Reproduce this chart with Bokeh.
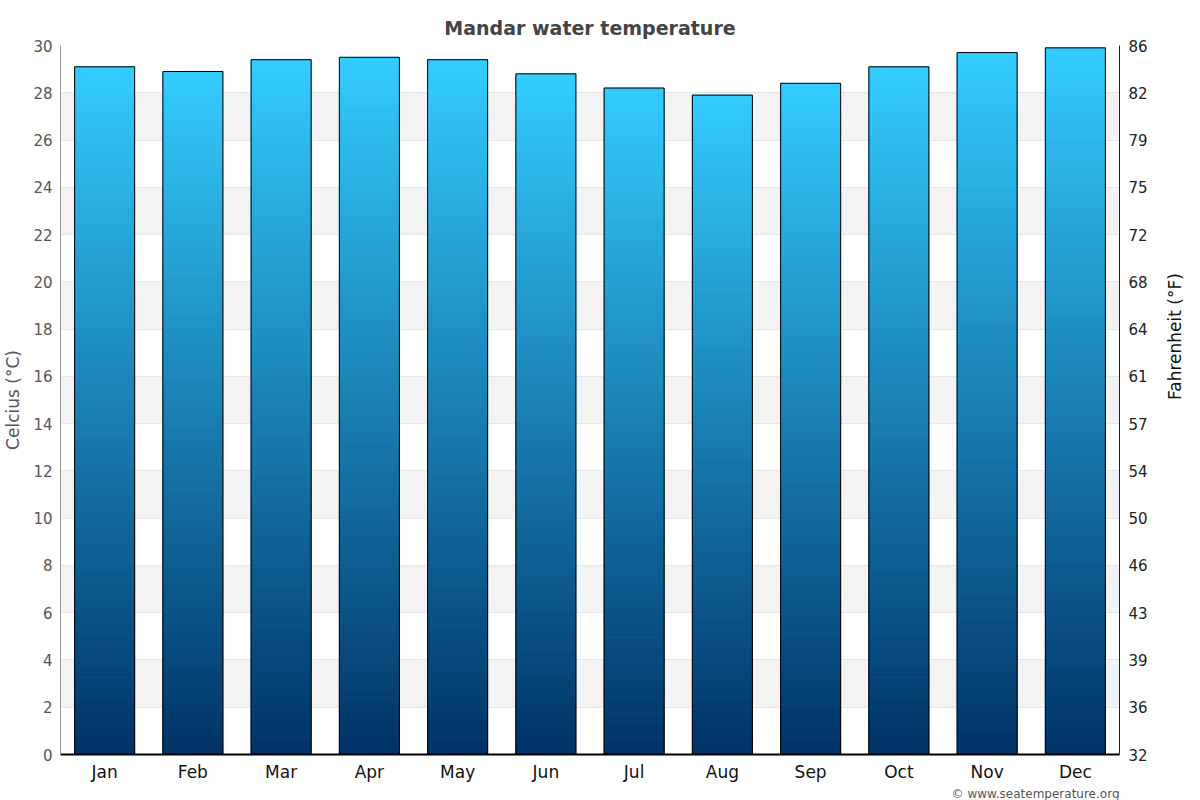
import numpy as np

from bokeh.embed import file_html
from bokeh.models import FactorRange, LinearAxis, Range1d, Title
from bokeh.plotting import figure
from bokeh.resources import INLINE

months = ["Jan", "Feb", "Mar", "Apr", "May", "Jun",
          "Jul", "Aug", "Sep", "Oct", "Nov", "Dec"]
water_c = [29.1, 28.9, 29.4, 29.5, 29.4, 28.8, 28.2, 27.9, 28.4, 29.1, 29.7, 29.9]
c_ticks = list(range(0, 31, 2))
f_labels = ["32", "36", "39", "43", "46", "50", "54", "57",
            "61", "64", "68", "72", "75", "79", "82", "86"]

top_rgb = np.array([51, 204, 255])
bottom_rgb = np.array([0, 51, 102])

p = figure(width=1200, height=800, x_range=FactorRange(*months),
           y_range=Range1d(0, 30), output_backend="svg", toolbar_location=None,
           min_border_left=60, min_border_right=81, min_border_top=45,
           min_border_bottom=45, outline_line_color=None)

p.title.text = "Mandar water temperature"
p.title.align = "center"
p.title.vertical_align = "top"
p.title.text_font = "DejaVu Sans"
p.title.text_font_size = "19px"
p.title.text_color = "#444444"
p.title.text_font_style = "bold"
p.title.standoff = 10

# gradient bars, drawn as thin slices
n = 160
xs, bots, tops, cols = [], [], [], []
for m, v in zip(months, water_c):
    edges = np.linspace(0, v, n + 1)
    for i in range(n):
        t = (i + 0.5) / n
        r, g, b = (bottom_rgb + (top_rgb - bottom_rgb) * t).round().astype(int)
        xs.append(m)
        bots.append(edges[i])
        tops.append(edges[i + 1])
        cols.append("#%02x%02x%02x" % (r, g, b))
p.vbar(x=xs, bottom=bots, top=tops, width=0.68, fill_color=cols,
       line_color=cols, line_width=1)
p.vbar(x=months, top=water_c, width=0.68, fill_color=None,
       line_color="black", line_width=1)

# grid and bands
p.xgrid.grid_line_color = None
p.ygrid.grid_line_color = "#e6e6e6"
p.ygrid.band_fill_color = "#f3f3f3"
p.ygrid.band_fill_alpha = 1.0
p.ygrid.level = "underlay"

# left axis
p.yaxis.ticker = c_ticks
p.yaxis.axis_label = "Celcius (°C)"
p.yaxis.axis_label_text_font = "DejaVu Sans"
p.yaxis.axis_label_text_font_size = "17px"
p.yaxis.axis_label_text_font_style = "normal"
p.yaxis.axis_label_text_color = "#555555"
p.yaxis.axis_label_standoff = 7
p.yaxis.major_label_text_font = "DejaVu Sans"
p.yaxis.major_label_text_font_size = "15px"
p.yaxis.major_label_text_color = "#555555"
p.yaxis.major_label_standoff = 8
p.yaxis.axis_line_color = "#999999"
p.yaxis.major_tick_out = 0
p.yaxis.major_tick_in = 0
p.yaxis.minor_tick_out = 0
p.yaxis.minor_tick_in = 0

# right axis in Fahrenheit, same positions
right = LinearAxis(ticker=c_ticks,
                   major_label_overrides={c: f for c, f in zip(c_ticks, f_labels)})
right.axis_label = "Fahrenheit (°F)"
right.axis_label_orientation = np.pi / 2
right.axis_label_text_font = "DejaVu Sans"
right.axis_label_text_font_size = "17px"
right.axis_label_text_font_style = "normal"
right.axis_label_text_color = "#111111"
right.axis_label_standoff = 24
right.major_label_text_font = "DejaVu Sans"
right.major_label_text_font_size = "15px"
right.major_label_text_color = "#222222"
right.major_label_standoff = 9
right.axis_line_color = "#222222"
right.major_tick_out = 0
right.major_tick_in = 0
right.minor_tick_out = 0
right.minor_tick_in = 0
p.add_layout(right, "right")

# bottom axis
p.xaxis.axis_line_color = "black"
p.xaxis.axis_line_width = 2
p.xaxis.major_tick_out = 0
p.xaxis.major_tick_in = 0
p.xaxis.minor_tick_out = 0
p.xaxis.minor_tick_in = 0
p.xaxis.major_label_text_font = "DejaVu Sans"
p.xaxis.major_label_text_font_size = "17px"
p.xaxis.major_label_text_color = "#111111"
p.xaxis.major_label_standoff = 7

credit = Title(text="© www.seatemperature.org", align="right",
               text_font="DejaVu Sans", text_font_size="12px",
               text_font_style="normal", text_color="#555555", standoff=0)
p.add_layout(credit, "below")

open("out.html", "w").write(file_html(p, INLINE))
